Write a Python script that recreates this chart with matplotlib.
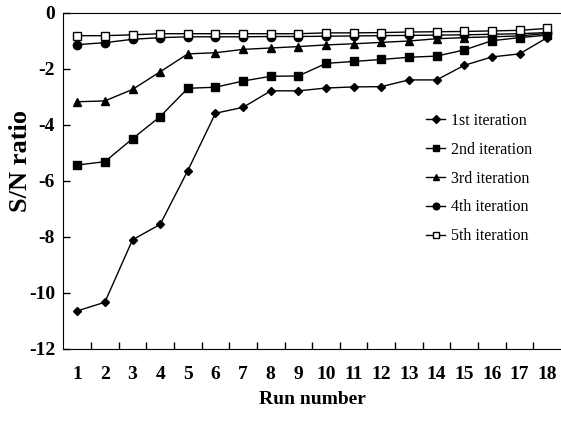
import numpy as np
import matplotlib
matplotlib.use('Agg')
import matplotlib.pyplot as plt

runs = list(range(1, 19))
iter1 = [-10.64, -10.33, -8.10, -7.55, -5.63, -3.58, -3.37, -2.78, -2.78,
         -2.68, -2.64, -2.63, -2.39, -2.39, -1.87, -1.57, -1.46, -0.88]
iter2 = [-5.43, -5.31, -4.49, -3.70, -2.69, -2.65, -2.43, -2.26, -2.25,
         -1.80, -1.73, -1.66, -1.58, -1.54, -1.32, -0.99, -0.88, -0.79]
iter3 = [-3.17, -3.14, -2.73, -2.10, -1.46, -1.42, -1.30, -1.25, -1.20,
         -1.14, -1.10, -1.05, -1.00, -0.92, -0.88, -0.85, -0.82, -0.73]
iter4 = [-1.13, -1.06, -0.94, -0.88, -0.85, -0.85, -0.85, -0.84, -0.84,
         -0.83, -0.82, -0.81, -0.80, -0.79, -0.78, -0.76, -0.74, -0.70]
iter5 = [-0.81, -0.81, -0.78, -0.74, -0.74, -0.74, -0.74, -0.74, -0.74,
         -0.71, -0.71, -0.70, -0.68, -0.67, -0.66, -0.64, -0.62, -0.55]
labels = ['1st iteration', '2nd iteration', '3rd iteration', '4th iteration', '5th iteration']

plt.rcParams['font.family'] = ['Liberation Serif', 'DejaVu Serif']
plt.rcParams['axes.unicode_minus'] = False

fig = plt.figure(figsize=(5.61, 4.33), dpi=100)
ax = fig.add_axes([0.113, 0.194, 0.887, 0.776])

ax.plot(runs, iter1, color='black', lw=1, marker='D', ms=4.5, label=labels[0])
ax.plot(runs, iter2, color='black', lw=1, marker='s', ms=6, label=labels[1])
ax.plot(runs, iter3, color='black', lw=1, marker='^', ms=6, label=labels[2])
ax.plot(runs, iter4, color='black', lw=1, marker='o', ms=6, label=labels[3])
ax.plot(runs, iter5, color='black', lw=1, marker='s', ms=6, mfc='white', label=labels[4])

ax.set_xlim(0.5, 18.5)
ax.set_ylim(-12, 0)
ax.set_yticks(np.arange(-12, 1, 2))
ax.set_xticks(runs)
ax.set_xticklabels([str(r) for r in runs], fontweight='bold', fontsize=14)
ax.set_xticks(np.arange(1.5, 18, 1), minor=True)
ax.tick_params(axis='x', which='major', length=0, pad=12)
ax.tick_params(axis='x', which='minor', direction='in', length=5, width=1)
ax.tick_params(axis='y', direction='in', length=5, width=1, labelsize=14, pad=6)
for t in ax.get_yticklabels():
    t.set_fontweight('bold')
ax.spines['right'].set_visible(False)

ax.set_xlabel('Run number', fontsize=14, fontweight='bold', labelpad=6)
ax.set_ylabel('S/N ratio', fontsize=19, fontweight='bold')
ax.yaxis.set_label_coords(-0.063, 0.56)

ax.legend(loc='upper left', bbox_to_anchor=(0.70, 0.745), frameon=False,
          fontsize=11.5, handlelength=1.2, handletextpad=0.35, labelspacing=0.8,
          markerscale=0.8)

plt.savefig('out.png', dpi=100)
plt.close(fig)
